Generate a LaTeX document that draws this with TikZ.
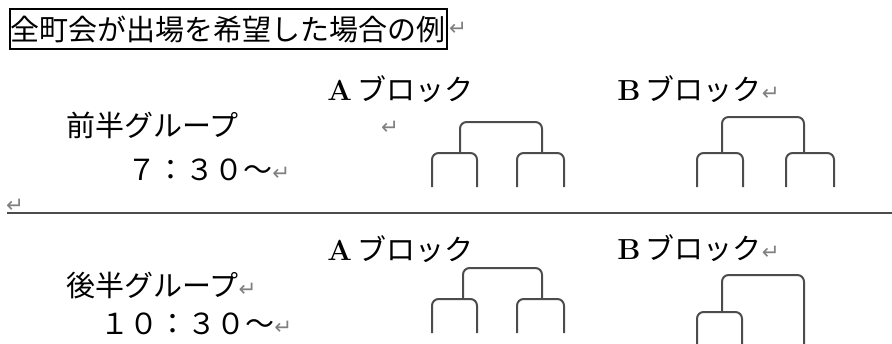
\documentclass[tikz,border=0pt]{standalone}
\usepackage{fontspec}
\usepackage{tikz}
\usetikzlibrary{positioning}
\newfontfamily\jp{Noto Sans CJK JP}
\newfontfamily\symfont{DejaVu Sans}
\newcommand{\retmark}{{\symfont\fontsize{16}{16}\selectfont\color{black!50}↵}}
\newcommand{\blk}[1]{{\rmfamily\bfseries #1}\hspace{4pt}ブロック}
\tikzset{
  jptext/.style={font=\jp\fontsize{21.75}{26}\selectfont, inner sep=0pt, anchor=west},
  bracket/.style={draw=black!70, line width=1.5pt, rounded corners=5pt},
  rule/.style={draw=black!70, line width=1.2pt}
}

\begin{document}
\begin{tikzpicture}[x=0.75pt,y=-0.75pt]
\useasboundingbox (0,0) rectangle (892,343);
\node[jptext, anchor=center, draw, line width=0.8pt, minimum width=327.75pt, minimum height=30pt] (title) at (228.5,29) {全町会が出場を希望した場合の例};
\node[right=1pt of title, inner sep=0pt] (titleret) {\retmark};
% first half
\node[jptext] (groupA) at (66,125) {前半グループ};
\node[jptext] (timeA) at (127,170) {７：３０～\retmark};
\node[inner sep=0pt] (loneret) at (390,128) {\retmark};
\node[jptext] (blkAa) at (327,89) {\blk{A}};
\node[jptext] (blkAb) at (617,89) {\blk{B}\retmark};
\draw[bracket] (432,187) -- (432,153) -- (477,153) -- (477,187);
\draw[bracket] (517,187) -- (517,153) -- (564,153) -- (564,187);
\draw[bracket] (460,153) -- (460,122) -- (542,122) -- (542,153);
\draw[bracket] (697,187) -- (697,153) -- (743,153) -- (743,187);
\draw[bracket] (786,187) -- (786,153) -- (834,153) -- (834,187);
\draw[bracket] (722,153) -- (722,117) -- (804,117) -- (804,153);
% rule
\node[inner sep=0pt] (ruleret) at (15,206) {\retmark};
\coordinate (ruleL) at (7,213);
\coordinate (ruleR) at (892,213);
\draw[rule] (ruleL) -- (ruleR);
% second half
\node[jptext] (groupB) at (66,286) {後半グループ\retmark};
\node[jptext] (timeB) at (100,324) {１０：３０～\retmark};
\node[jptext] (blkBa) at (327,249) {\blk{A}};
\node[jptext] (blkBb) at (617,248) {\blk{B}\retmark};
\draw[bracket] (432,333) -- (432,299) -- (477,299) -- (477,333);
\draw[bracket] (517,333) -- (517,299) -- (564,299) -- (564,333);
\draw[bracket] (463,299) -- (463,268) -- (542,268) -- (542,299);
\draw[bracket] (697,345) -- (697,312) -- (742,312) -- (742,345);
\draw[bracket] (722,312) -- (722,275) -- (804,275) -- (804,345);
\end{tikzpicture}
\end{document}
